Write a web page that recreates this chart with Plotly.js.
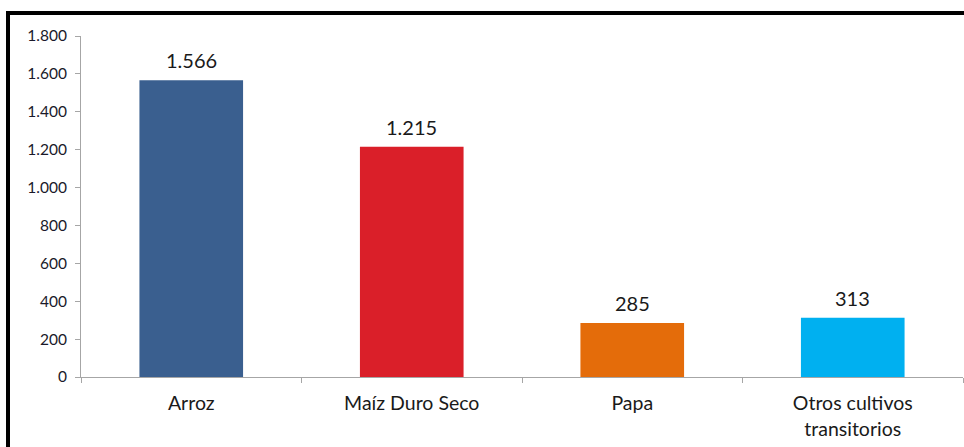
<!DOCTYPE html>
<html>
<head>
<meta charset="utf-8">
<script src="https://cdn.plot.ly/plotly-3.0.1.min.js"></script>
<style>html,body{margin:0;padding:0;background:#fff;}#chart{width:964px;height:447px;}</style>
</head>
<body>
<div id="chart"></div>
<script>
const categories = ["Arroz", "Maíz Duro Seco", "Papa", "Otros cultivos<br>transitorios"];
const values = [1566, 1215, 285, 313];
const valueLabels = ["1.566", "1.215", "285", "313"];
const barColors = ["#3A5F8F", "#DA1F29", "#E46C0A", "#00B0F0"];
const yTicks = [0, 200, 400, 600, 800, 1000, 1200, 1400, 1600, 1800];

const trace = {
  type: "bar",
  x: categories,
  y: values,
  marker: {color: barColors},
  hoverinfo: "skip"
};

const annotations = categories.map((c, i) => ({
  x: c, y: values[i], xref: "x", yref: "y",
  text: valueLabels[i], showarrow: false,
  xanchor: "center", yanchor: "bottom", yshift: 6,
  font: {family: "Lato, 'Open Sans', sans-serif", size: 20, color: "#1a1a1a"}
}));

const layout = {
  width: 964,
  height: 447,
  margin: {l: 81, r: 1, t: 36, b: 70},
  paper_bgcolor: "#ffffff",
  plot_bgcolor: "#ffffff",
  separators: ",.",
  showlegend: false,
  bargap: 0.53,
  font: {family: "Lato, 'Open Sans', sans-serif", color: "#1a1a1a"},
  annotations: annotations,
  xaxis: {
    type: "category",
    range: [-0.5, 3.5],
    showline: true,
    linecolor: "#A6A6A6",
    linewidth: 1,
    ticks: "outside",
    tickson: "boundaries",
    ticklen: 5,
    tickcolor: "#A6A6A6",
    ticklabelstandoff: 9,
    showgrid: false,
    tickfont: {size: 19.5, color: "#1a1a1a"},
    fixedrange: true
  },
  yaxis: {
    range: [0, 1800],
    tickvals: yTicks,
    tickformat: ",d",
    showline: true,
    linecolor: "#A6A6A6",
    linewidth: 1,
    ticks: "outside",
    ticklen: 5,
    tickcolor: "#A6A6A6",
    ticklabelstandoff: 5,
    showgrid: false,
    zeroline: false,
    tickfont: {size: 15.5, color: "#1a1a2a"},
    fixedrange: true
  },
  shapes: [
    {type: "line", xref: "paper", yref: "paper", x0: (6 - 81) / 882, x1: (964 - 81) / 882, y0: (377 - 13) / 341, y1: (377 - 13) / 341, line: {color: "#000000", width: 4}},
    {type: "line", xref: "paper", yref: "paper", x0: (8 - 81) / 882, x1: (8 - 81) / 882, y0: (377 - 11) / 341, y1: (377 - 447) / 341, line: {color: "#000000", width: 4}}
  ]
};

Plotly.newPlot("chart", [trace], layout, {displayModeBar: false, staticPlot: true});
</script>
</body>
</html>
